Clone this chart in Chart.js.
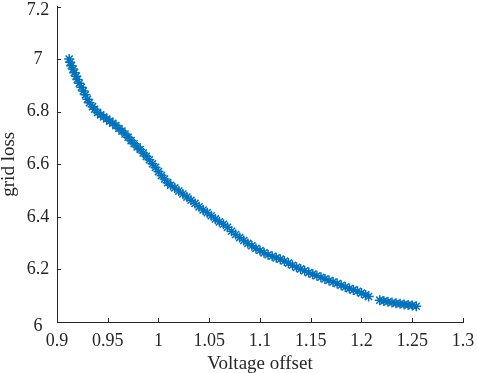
<!DOCTYPE html>
<html>
<head>
<meta charset="utf-8">
<script src="https://cdn.jsdelivr.net/npm/chart.js@4/dist/chart.umd.min.js"></script>
<style>
  html, body { margin: 0; padding: 0; background: #fff; }
  #wrap { width: 477px; height: 373px; }
</style>
</head>
<body>
<div id="wrap"><canvas id="lossChart"></canvas></div>
<script>
// values
const voltageOffset = [
  0.912, 0.913, 0.914, 0.916, 0.917, 0.919, 0.920, 0.922, 0.924, 0.926, 0.928, 0.930, 0.932, 0.935, 0.937, 0.940,
  0.943, 0.946, 0.949, 0.952, 0.955, 0.958, 0.961, 0.964, 0.967, 0.970, 0.973, 0.976, 0.979,
  0.982, 0.985, 0.988, 0.991, 0.994, 0.997, 1.000,
  1.003, 1.006, 1.009, 1.012, 1.016, 1.020, 1.024, 1.028, 1.032, 1.036, 1.040, 1.044, 1.048,
  1.052, 1.056, 1.060, 1.064, 1.068, 1.072, 1.076, 1.080, 1.084, 1.088, 1.092, 1.096, 1.100,
  1.104, 1.108, 1.112, 1.116, 1.120, 1.124, 1.128, 1.132, 1.136, 1.140, 1.144, 1.148,
  1.152, 1.156, 1.160, 1.164, 1.168, 1.172, 1.176, 1.180, 1.184, 1.188, 1.192, 1.196, 1.200, 1.204, 1.207,
  1.218, 1.222, 1.226, 1.230, 1.234, 1.238, 1.242, 1.246, 1.250, 1.254
];
const gridLoss = [
  7.000, 6.988, 6.975, 6.962, 6.948, 6.935, 6.922, 6.908, 6.893, 6.879, 6.864, 6.847, 6.834, 6.819, 6.809, 6.797,
  6.788, 6.780, 6.772, 6.764, 6.756, 6.747, 6.736, 6.726, 6.715, 6.703, 6.690, 6.678, 6.666,
  6.656, 6.643, 6.630, 6.617, 6.602, 6.588, 6.572,
  6.557, 6.544, 6.530, 6.520, 6.510, 6.498, 6.487, 6.475, 6.463, 6.451, 6.438, 6.426, 6.416,
  6.404, 6.392, 6.381, 6.372, 6.360, 6.345, 6.333, 6.321, 6.310, 6.299, 6.290, 6.280, 6.272,
  6.263, 6.256, 6.250, 6.244, 6.239, 6.232, 6.224, 6.216, 6.208, 6.202, 6.195, 6.188,
  6.182, 6.176, 6.170, 6.164, 6.158, 6.152, 6.146, 6.140, 6.133, 6.127, 6.122, 6.117, 6.110, 6.103, 6.097,
  6.083, 6.080, 6.077, 6.074, 6.071, 6.069, 6.067, 6.065, 6.063, 6.060
];
const xTicks = [0.9, 0.95, 1, 1.05, 1.1, 1.15, 1.2, 1.25, 1.3];
const yTicks = [6, 6.2, 6.4, 6.6, 6.8, 7, 7.2];

const axisColor = '#262626';
const serif = "'Liberation Serif', 'Times New Roman', serif";

// MATLAB style ticks pointing into the plot, plus the y labels
// (end labels nudged down like in the original export)
const innerTicks = {
  id: 'innerTicks',
  afterDraw(chart) {
    const {ctx, chartArea, scales} = chart;
    ctx.save();
    ctx.strokeStyle = axisColor;
    ctx.lineWidth = 1;
    ctx.beginPath();
    xTicks.forEach(v => {
      const px = Math.round(scales.x.getPixelForValue(v)) + 0.5;
      ctx.moveTo(px, chartArea.bottom);
      ctx.lineTo(px, chartArea.bottom - 4);
    });
    yTicks.forEach(v => {
      const py = Math.round(scales.y.getPixelForValue(v)) + 0.5;
      ctx.moveTo(chartArea.left, py);
      ctx.lineTo(chartArea.left + 4, py);
    });
    ctx.stroke();

    ctx.fillStyle = axisColor;
    ctx.font = '18px ' + serif;
    ctx.textAlign = 'center';
    ctx.textBaseline = 'middle';
    yTicks.forEach((v, i) => {
      let py = scales.y.getPixelForValue(v);
      if (i === yTicks.length - 1) py += 4;
      if (i === 0) py += 4;
      ctx.fillText(String(v), chartArea.left - 19, py);
    });
    ctx.restore();
  }
};

const points = voltageOffset.map((x, i) => ({x: x, y: gridLoss[i]}));

new Chart(document.getElementById('lossChart'), {
  type: 'scatter',
  data: {
    datasets: [{
      data: points,
      pointStyle: 'star',
      pointRadius: 5,
      borderWidth: 1.5,
      borderColor: '#0072BD',
      backgroundColor: '#0072BD'
    }]
  },
  options: {
    responsive: true,
    maintainAspectRatio: false,
    animation: false,
    layout: { padding: { top: 5, right: 14, left: 0, bottom: 0 } },
    plugins: { legend: { display: false }, tooltip: { enabled: false } },
    scales: {
      x: {
        type: 'linear',
        min: 0.9,
        max: 1.3,
        afterBuildTicks: s => { s.ticks = xTicks.map(v => ({value: v})); },
        afterFit: s => { s.height = 51; s.paddingLeft = 0; s.paddingRight = 0; },
        grid: { display: false, drawTicks: false },
        border: { display: true, color: axisColor, width: 1 },
        ticks: {
          padding: 8,
          color: axisColor,
          font: { family: serif, size: 18 },
          maxRotation: 0,
          callback: v => String(Number(v.toFixed(2)))
        },
        title: {
          display: true,
          text: 'Voltage offset',
          color: axisColor,
          font: { family: serif, size: 19 },
          padding: { top: 0, bottom: -2 }
        }
      },
      y: {
        type: 'linear',
        min: 6,
        max: 7.2,
        afterBuildTicks: s => { s.ticks = yTicks.map(v => ({value: v})); },
        afterFit: s => { s.width = 57; s.paddingTop = 0; s.paddingBottom = 0; },
        grid: { display: false, drawTicks: false },
        border: { display: true, color: axisColor, width: 1 },
        ticks: { display: false },
        title: {
          display: true,
          text: 'grid loss',
          color: axisColor,
          font: { family: serif, size: 19 },
          padding: { top: -2, bottom: 0 }
        }
      }
    }
  },
  plugins: [innerTicks]
});
</script>
</body>
</html>
